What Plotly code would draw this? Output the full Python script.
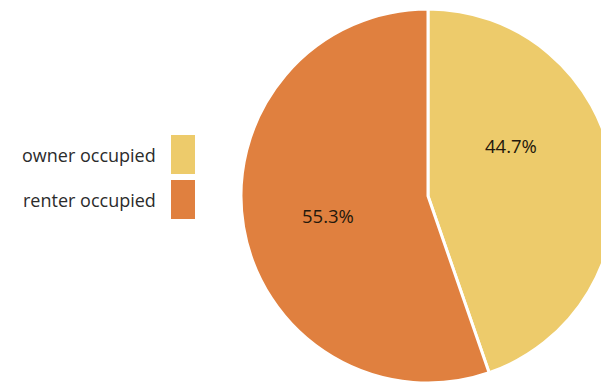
import plotly.graph_objects as go

labels = ["owner occupied", "renter occupied"]
values = [44.7, 55.3]
colors = ["#EDCB6B", "#E0803F"]

W, H = 616, 385
fig = go.Figure()
fig.add_trace(go.Pie(
    labels=labels, values=values, sort=False, direction="clockwise", rotation=0,
    marker=dict(colors=colors, line=dict(color="white", width=3)),
    textinfo="none",
    domain=dict(x=[241 / W, 615 / W], y=[1 - 383 / H, 1 - 9 / H]),
    showlegend=False, hoverinfo="label+percent",
))

# percentage labels (text positions in pixels)
label_pos = [(511, 145), (328, 215)]
total = sum(values)
for v, (px, py) in zip(values, label_pos):
    fig.add_annotation(xref="paper", yref="paper", x=px / W, y=1 - py / H,
                       text=f"{v / total * 100:.1f}%", showarrow=False,
                       xanchor="center", yanchor="middle",
                       font=dict(family="Open Sans", size=18.5, color="#24180c"))

# custom legend: text right-aligned, swatch on the right
sw_x0, sw_x1 = 171, 195
rows = [(135, 174), (180, 219)]
for lab, col, (y0, y1) in zip(labels, colors, rows):
    fig.add_shape(type="rect", xref="paper", yref="paper",
                  x0=sw_x0 / W, x1=sw_x1 / W, y0=1 - y1 / H, y1=1 - y0 / H,
                  fillcolor=col, line=dict(width=0))
    fig.add_annotation(xref="paper", yref="paper", x=158 / W, y=1 - (y0 + y1) / 2 / H,
                       text=lab, showarrow=False, xanchor="right", yanchor="middle",
                       font=dict(family="Open Sans", size=18, color="#2b2b2b"))

fig.update_layout(width=W, height=H, margin=dict(l=0, r=0, t=0, b=0),
                  paper_bgcolor="white", plot_bgcolor="white")

fig.write_html("out.html",
               post_script="document.documentElement.style.overflow='hidden';document.body.style.overflow='hidden';")
